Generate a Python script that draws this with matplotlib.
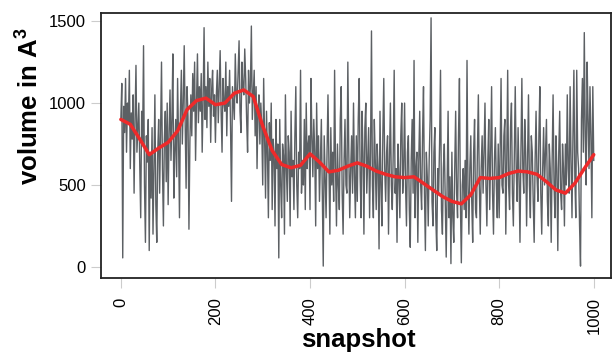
import numpy as np
import matplotlib.pyplot as plt

plt.rcParams['font.family'] = ['Liberation Sans', 'DejaVu Sans']
plt.rcParams['mathtext.fontset'] = 'custom'
plt.rcParams['mathtext.bf'] = 'Liberation Sans:bold'
plt.rcParams['mathtext.rm'] = 'Liberation Sans:bold'

# raw volume per snapshot (read every 2nd snapshot off the picture)
snap_step = 2
volume = [
    # 0 - 98
    900, 1120, 55, 980, 820, 1150, 700, 1000, 880, 1200,
    600, 940, 780, 1050, 450, 900, 1230, 700, 850, 1000,
    620, 300, 950, 760, 1350, 500, 150, 800, 640, 900,
    100, 700, 420, 850, 200, 600, 1050, 380, 150, 700,
    900, 450, 820, 1250, 600, 250, 780, 950, 520, 1000,
    # 100 - 198
    380, 820, 1080, 650, 900, 1300, 420, 700, 900, 550,
    1150, 780, 300, 950, 1200, 750, 1000, 1350, 880, 480,
    1100, 920, 230, 760, 1050, 800, 1180, 950, 1250, 650,
    1000, 1300, 880, 1100, 950, 1180, 700, 1020, 1460, 900,
    1100, 850, 1250, 980, 1150, 760, 1080, 1200, 920, 1050,
    # 200 - 298
    760, 1050, 1200, 880, 1100, 1320, 950, 700, 1150, 1000,
    950, 1250, 800, 1100, 980, 1200, 850, 400, 1100, 1000,
    900, 1300, 1050, 1000, 1200, 1380, 950, 820, 1250, 1100,
    1050, 1330, 1150, 900, 700, 1200, 1000, 1100, 1470, 900,
    1050, 1200, 800, 1100, 600, 950, 1050, 750, 1000, 850,
    # 300 - 398
    500, 1150, 800, 420, 950, 700, 300, 880, 650, 1000,
    350, 780, 700, 250, 900, 600, 750, 55, 900, 500,
    300, 750, 680, 200, 1050, 600, 400, 800, 700, 250,
    950, 550, 650, 350, 800, 1100, 500, 300, 700, 600,
    1200, 450, 650, 500, 900, 350, 1000, 600, 750, 800,
    # 400 - 498
    350, 1150, 800, 550, 900, 700, 250, 1000, 600, 800,
    400, 650, 900, 450, 5, 800, 550, 300, 700, 1050,
    600, 200, 850, 500, 700, 400, 1200, 600, 250, 750,
    500, 350, 900, 1100, 450, 200, 650, 900, 500, 450,
    1250, 700, 300, 600, 800, 450, 1000, 550, 300, 800,
    # 500 - 598
    400, 900, 1150, 550, 300, 950, 700, 200, 850, 1000,
    450, 650, 850, 300, 700, 1440, 500, 300, 900, 650,
    350, 750, 600, 110, 950, 500, 250, 800, 1150, 600,
    400, 700, 800, 200, 650, 1000, 500, 350, 700, 1200,
    450, 600, 150, 750, 550, 300, 800, 1000, 450, 600,
    # 600 - 698
    1000, 500, 250, 700, 800, 350, 120, 650, 900, 450,
    1260, 300, 600, 700, 150, 650, 950, 500, 350, 800,
    1100, 450, 100, 700, 550, 250, 650, 900, 1520, 400,
    250, 700, 850, 300, 100, 600, 450, 750, 1200, 350,
    200, 600, 750, 400, 60, 500, 950, 300, 550, 20,
    # 700 - 798
    700, 300, 150, 600, 950, 450, 300, 800, 1150, 400,
    25, 500, 600, 350, 650, 300, 1260, 500, 200, 600,
    800, 400, 150, 700, 900, 350, 300, 700, 1050, 500,
    200, 600, 800, 450, 700, 1000, 500, 250, 650, 900,
    350, 700, 1100, 450, 200, 650, 850, 500, 300, 750,
    # 800 - 898
    300, 700, 1150, 500, 450, 800, 900, 200, 650, 1200,
    500, 350, 850, 1000, 450, 250, 700, 1100, 600, 400,
    850, 550, 150, 700, 1150, 600, 450, 900, 700, 250,
    650, 1050, 500, 300, 800, 700, 400, 150, 650, 950,
    550, 400, 800, 1100, 450, 200, 600, 850, 500, 700,
    # 900 - 1000
    900, 400, 250, 750, 600, 150, 650, 1050, 500, 300,
    800, 600, 100, 700, 950, 450, 350, 750, 600, 250,
    750, 500, 1050, 600, 450, 1100, 650, 300, 800, 1200,
    550, 300, 1200, 700, 600, 250, 5, 900, 1150, 700,
    1430, 800, 500, 1250, 900, 600, 1100, 800, 300, 1100,
    650,
]

# smoothed trend (red), every 20 snapshots
trend_step = 20
trend = [
    900, 870, 780, 685, 725, 760, 830, 960, 1015, 1030,
    990, 1000, 1060, 1080, 1040, 860, 710, 625, 605, 620,
    690, 640, 580, 590, 615, 635, 615, 585, 565, 550,
    545, 550, 510, 470, 430, 400, 385, 440, 545, 540,
    545, 570, 585, 580, 565, 520, 470, 450, 510, 600,
    685,
]

x_raw = np.arange(len(volume)) * snap_step
x_trend = np.arange(len(trend)) * trend_step

fig = plt.figure(figsize=(6.12, 3.54), dpi=100)
ax = fig.add_axes([0.165, 0.215, 0.833, 0.748])

ax.plot(x_raw, volume, color='#5c6064', linewidth=1.0)
ax.plot(x_trend, trend, color='#ee2a2a', linewidth=2.5, solid_capstyle='round')

ax.set_xlim(-42, 1036)
ax.set_ylim(-67, 1549)
ax.set_xticks([0, 200, 400, 600, 800, 1000])
ax.set_yticks([0, 500, 1000, 1500])
ax.tick_params(length=7, width=0.8, color='#cccccc', labelsize=12)
ax.tick_params(axis='x', labelrotation=90, pad=7)
ax.tick_params(axis='y', pad=4)

for s in ax.spines.values():
    s.set_linewidth(1.3)
    s.set_color('#222222')

ax.set_xlabel('snapshot', fontsize=18.5, fontweight='bold')
ax.set_ylabel(r'volume in A$^{\mathbf{3}}$', fontsize=18.5, fontweight='bold')
ax.xaxis.set_label_coords(0.504, -0.19)
ax.yaxis.set_label_coords(-0.114, 0.65)

fig.savefig('out.png', dpi=100)
